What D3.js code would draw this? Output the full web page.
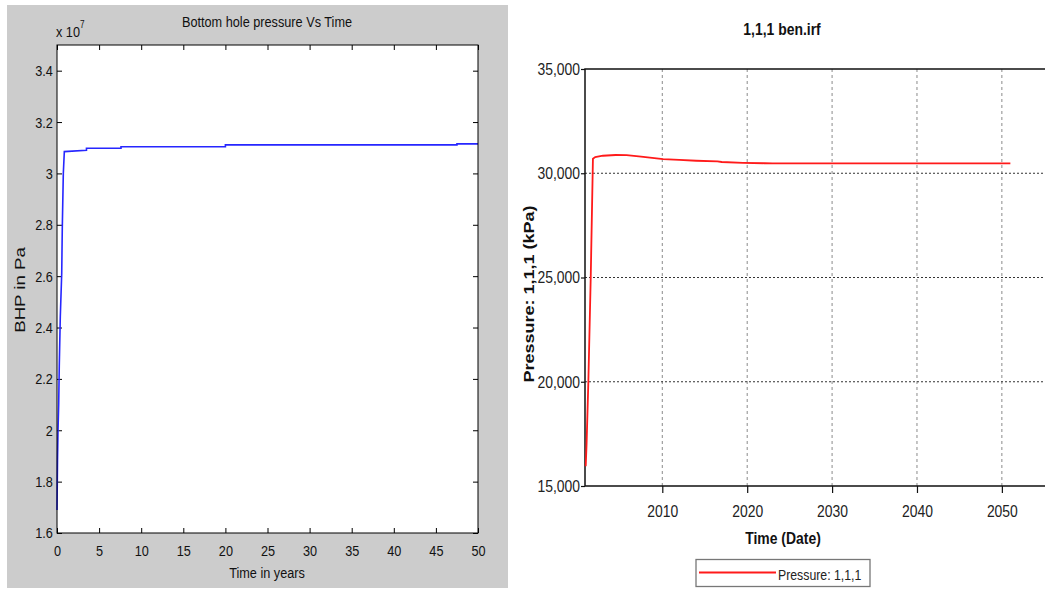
<!DOCTYPE html>
<html>
<head>
<meta charset="utf-8">
<script src="https://cdn.jsdelivr.net/npm/d3@7"></script>
<style>
  body { margin: 0; background: #fff; }
  svg { display: block; font-family: "Liberation Sans", Arial, sans-serif; }
</style>
</head>
<body>
<div id="chart"></div>
<script>
// left panel: bottom hole pressure (x 1e7 Pa) vs time in years
const bhpYears = [0, 0.06, 0.12, 0.2, 0.27, 0.39, 0.56, 0.63, 0.75, 0.87, 3.5, 3.5, 7.6, 7.6, 20, 20, 47.5, 47.5, 50];
const bhpPa    = [1.69, 1.88, 2.0, 2.1, 2.25, 2.44, 2.61, 2.79, 3.0, 3.085, 3.09, 3.098, 3.098, 3.104, 3.104, 3.111, 3.111, 3.115, 3.115];
const leftXTicks = [0, 5, 10, 15, 20, 25, 30, 35, 40, 45, 50];
const leftYTicks = [1.6, 1.8, 2, 2.2, 2.4, 2.6, 2.8, 3, 3.2, 3.4];

// right panel: pressure 1,1,1 (kPa) vs date
const dateYears   = [2000.98, 2001.08, 2001.29, 2001.57, 2001.83, 2002.1, 2003.0, 2004.5, 2005.8, 2007.5, 2010.1, 2012, 2014, 2016.5, 2017, 2019.5, 2022, 2023, 2051];
const pressureKPa = [15950, 17000, 20000, 25000, 30700, 30780, 30840, 30875, 30870, 30800, 30680, 30640, 30600, 30570, 30540, 30500, 30480, 30470, 30470];
const rightXTicks = [2010, 2020, 2030, 2040, 2050];
const rightYTicks = [15000, 20000, 25000, 30000, 35000];
const gridYTicks  = [20000, 25000, 30000];

const W = 1045, H = 592;
const NARROW = 0.82; // the picture is squeezed sideways, so text is too

const svg = d3.select("#chart").append("svg")
    .attr("width", W)
    .attr("height", H);

// text placed at (x,y) and squeezed horizontally round that point
function label(g, x, y, size, txt) {
  return g.append("text")
      .attr("transform", `translate(${x},${y}) scale(${NARROW},1)`)
      .style("font-size", size + "px")
      .attr("fill", "#111")
      .text(txt);
}

// ---------- left (matlab style) ----------
svg.append("rect")
    .attr("x", 7).attr("y", 5)
    .attr("width", 501).attr("height", 583)
    .attr("fill", "#cccccc");

const lx = d3.scaleLinear().domain([0, 50]).range([57, 478]);
const ly = d3.scaleLinear().domain([1.6, 3.5]).range([533, 45]);

const left = svg.append("g");

left.append("rect")
    .attr("x", lx(0)).attr("y", ly(3.5))
    .attr("width", lx(50) - lx(0)).attr("height", ly(1.6) - ly(3.5))
    .attr("fill", "#fff");

left.append("g")
    .attr("transform", `translate(0,${ly(1.6)})`)
    .call(d3.axisBottom(lx).tickValues(leftXTicks).tickSizeInner(-5).tickSizeOuter(0).tickPadding(12));
left.append("g")
    .attr("transform", `translate(0,${ly(3.5)})`)
    .call(d3.axisTop(lx).tickValues(leftXTicks).tickFormat("").tickSizeInner(-5).tickSizeOuter(0));
left.append("g")
    .attr("transform", `translate(${lx(0)},0)`)
    .call(d3.axisLeft(ly).tickValues(leftYTicks).tickFormat(d3.format("")).tickSizeInner(-5).tickSizeOuter(0).tickPadding(5));
left.append("g")
    .attr("transform", `translate(${lx(50)},0)`)
    .call(d3.axisRight(ly).tickValues(leftYTicks).tickFormat("").tickSizeInner(-5).tickSizeOuter(0));

left.selectAll(".domain").remove();
left.selectAll("g").attr("font-family", null).attr("font-size", null);
left.selectAll(".tick line").attr("stroke", "#000");
left.selectAll(".tick text")
    .attr("fill", "#111")
    .style("font-size", "15.5px")
    .attr("transform", `scale(${NARROW},1)`);

const bhpLine = d3.line()
    .x((d, i) => lx(bhpYears[i]))
    .y(d => ly(d));
left.append("path")
    .datum(bhpPa)
    .attr("fill", "none")
    .attr("stroke", "#2626ff")
    .attr("stroke-width", 1.6)
    .attr("d", bhpLine);

left.append("rect")
    .attr("x", lx(0)).attr("y", ly(3.5))
    .attr("width", lx(50) - lx(0)).attr("height", ly(1.6) - ly(3.5))
    .attr("fill", "none")
    .attr("stroke", "#000")
    .attr("stroke-width", 1);

label(left, 267, 26.5, 15.5, "Bottom hole pressure Vs Time").attr("text-anchor", "middle");

const exp = label(left, 56, 36.5, 15.5, null);
exp.append("tspan").text("x 10");
exp.append("tspan").attr("dy", -9).style("font-size", "10px").text("7");

label(left, 267, 578, 15.5, "Time in years").attr("text-anchor", "middle");

left.append("text")
    .attr("transform", "translate(25,290) scale(0.75,1) rotate(-90)")
    .attr("text-anchor", "middle")
    .style("font-size", "18.6px")
    .attr("fill", "#111")
    .text("BHP in Pa");

// ---------- right (cmg style) ----------
const rx = d3.scaleLinear().domain([2000.895, 2055.08]).range([585, 1045]);
const ry = d3.scaleLinear().domain([15000, 35000]).range([486, 69]);

const right = svg.append("g");

// grid
right.selectAll(".vgrid")
    .data(rightXTicks)
    .enter().append("line")
    .attr("x1", d => rx(d)).attr("x2", d => rx(d))
    .attr("y1", ry(35000)).attr("y2", ry(15000))
    .attr("stroke", "#8a8a8a")
    .attr("stroke-width", 1)
    .attr("stroke-dasharray", "3,3");
right.selectAll(".hgrid")
    .data(gridYTicks)
    .enter().append("line")
    .attr("x1", rx.range()[0]).attr("x2", rx.range()[1])
    .attr("y1", d => ry(d)).attr("y2", d => ry(d))
    .attr("stroke", "#333")
    .attr("stroke-width", 1)
    .attr("stroke-dasharray", "2,2");

right.append("g")
    .attr("transform", `translate(0,${ry(15000)})`)
    .call(d3.axisBottom(rx).tickValues(rightXTicks).tickFormat(d3.format("d")).tickSize(7).tickPadding(12));
right.append("g")
    .attr("transform", `translate(${rx.range()[0]},0)`)
    .call(d3.axisLeft(ry).tickValues(rightYTicks).tickFormat(d3.format(",")).tickSize(4).tickPadding(2));

right.selectAll(".domain").remove();
right.selectAll("g").attr("font-family", null).attr("font-size", null);
right.selectAll(".tick line").attr("stroke", "#111").attr("stroke-width", 1.2);
right.selectAll(".tick text")
    .attr("fill", "#222")
    .style("font-size", "17px")
    .attr("transform", `scale(${NARROW},1)`);

// axis frame: left, bottom, top
right.append("path")
    .attr("d", `M${rx.range()[1]},${ry(35000)}H${rx.range()[0]}V${ry(15000)}H${rx.range()[1]}`)
    .attr("fill", "none")
    .attr("stroke", "#111")
    .attr("stroke-width", 1.5);

const pLine = d3.line()
    .x((d, i) => rx(dateYears[i]))
    .y(d => ry(d));
right.append("path")
    .datum(pressureKPa)
    .attr("fill", "none")
    .attr("stroke", "#ff1a1a")
    .attr("stroke-width", 1.8)
    .attr("d", pLine);

label(right, 782, 35, 17, "1,1,1 ben.irf")
    .attr("text-anchor", "middle")
    .style("font-weight", "bold");

label(right, 783, 544, 17, "Time (Date)")
    .attr("text-anchor", "middle")
    .style("font-weight", "bold");

right.append("text")
    .attr("transform", "translate(533.5,294) scale(0.8,1) rotate(-90)")
    .attr("text-anchor", "middle")
    .style("font-size", "18px")
    .style("font-weight", "bold")
    .attr("fill", "#111")
    .text("Pressure: 1,1,1 (kPa)");

// legend
const legend = right.append("g");
legend.append("rect")
    .attr("x", 696).attr("y", 559.5)
    .attr("width", 174).attr("height", 27)
    .attr("fill", "#fff")
    .attr("stroke", "#777")
    .attr("stroke-width", 1.3);
legend.append("line")
    .attr("x1", 699).attr("x2", 776)
    .attr("y1", 572.5).attr("y2", 572.5)
    .attr("stroke", "#ff1a1a")
    .attr("stroke-width", 1.8);
label(legend, 778, 579.5, 15, "Pressure: 1,1,1").attr("fill", "#222");
</script>
</body>
</html>
